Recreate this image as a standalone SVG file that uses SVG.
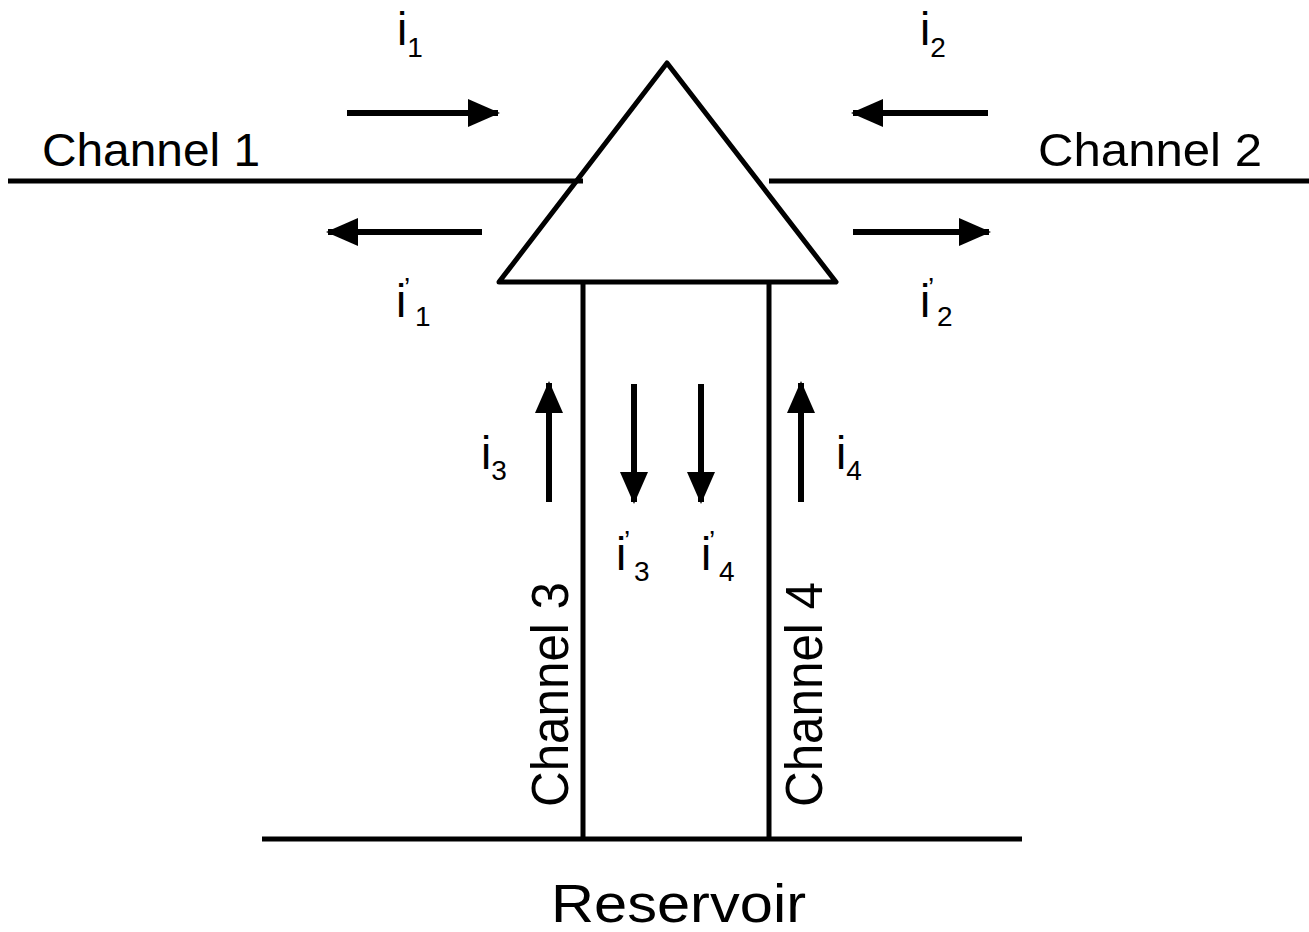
<svg xmlns="http://www.w3.org/2000/svg" width="1309" height="932" viewBox="0 0 1309 932">
<style>
.ln{stroke:#000;stroke-width:5;fill:none}
.ar{stroke:#000;stroke-width:6;fill:none}
.t{font-family:"Liberation Sans",Arial,Helvetica,sans-serif;fill:#000}
.big{font-size:47px}
.i{font-size:46px}
.s{font-size:28px}
</style>
<defs>
<marker id="ah" viewBox="0 0 32 28" refX="30" refY="14" markerWidth="32" markerHeight="28" markerUnits="userSpaceOnUse" orient="auto">
<path d="M0,0 L32,14 L0,28 Z" fill="#000"/>
</marker>
</defs>
<rect width="1309" height="932" fill="#fff"/>
<g id="channel1">
<line class="ln" x1="8" y1="181" x2="583" y2="181"/>
<text class="t big" x="42" y="166" textLength="218" lengthAdjust="spacingAndGlyphs">Channel 1</text>
</g>
<g id="channel2">
<line class="ln" x1="769" y1="181" x2="1309" y2="181"/>
<text class="t big" x="1038" y="166" textLength="224" lengthAdjust="spacingAndGlyphs">Channel 2</text>
</g>
<g id="junction">
<polygon class="ln" points="667,63 836,282 499,282" fill="#fff" stroke-linejoin="round"/>
</g>
<g id="channel3">
<line class="ln" x1="583" y1="282" x2="583" y2="839"/>
<text class="t" font-size="51" transform="translate(568,807) rotate(-90)" textLength="225" lengthAdjust="spacingAndGlyphs">Channel 3</text>
</g>
<g id="channel4">
<line class="ln" x1="769" y1="282" x2="769" y2="839"/>
<text class="t" font-size="51" transform="translate(822,807) rotate(-90)" textLength="225" lengthAdjust="spacingAndGlyphs">Channel 4</text>
</g>
<g id="reservoir">
<line class="ln" x1="262" y1="839" x2="1022" y2="839"/>
<text class="t" font-size="53" x="551" y="922" textLength="255" lengthAdjust="spacingAndGlyphs">Reservoir</text>
</g>
<g id="connectors">
<line class="ar" x1="347" y1="113" x2="498" y2="113" marker-end="url(#ah)"/>
<line class="ar" x1="482" y1="232" x2="328" y2="232" marker-end="url(#ah)"/>
<line class="ar" x1="988" y1="113" x2="853" y2="113" marker-end="url(#ah)"/>
<line class="ar" x1="853" y1="232" x2="989" y2="232" marker-end="url(#ah)"/>
<line class="ar" x1="549" y1="502" x2="549" y2="383" marker-end="url(#ah)"/>
<line class="ar" x1="634" y1="384" x2="634" y2="502" marker-end="url(#ah)"/>
<line class="ar" x1="701" y1="384" x2="701" y2="502" marker-end="url(#ah)"/>
<line class="ar" x1="801" y1="502" x2="801" y2="383" marker-end="url(#ah)"/>
</g>
<g id="labels">
<text class="t i" x="397" y="45">i<tspan class="s" dy="12">1</tspan></text>
<text class="t i" x="920" y="45">i<tspan class="s" dy="12">2</tspan></text>
<text class="t i" x="396" y="317">i</text><text class="t s" x="404" y="297">’</text><text class="t s" x="415" y="326">1</text>
<text class="t i" x="920" y="317">i</text><text class="t s" x="928" y="297">’</text><text class="t s" x="937" y="326">2</text>
<text class="t i" x="481" y="469">i<tspan class="s" dy="11">3</tspan></text>
<text class="t i" x="836" y="469">i<tspan class="s" dy="11">4</tspan></text>
<text class="t i" x="616" y="570">i</text><text class="t s" x="624" y="550">’</text><text class="t s" x="634" y="581">3</text>
<text class="t i" x="701" y="570">i</text><text class="t s" x="709" y="550">’</text><text class="t s" x="719" y="581">4</text>
</g>
</svg>
